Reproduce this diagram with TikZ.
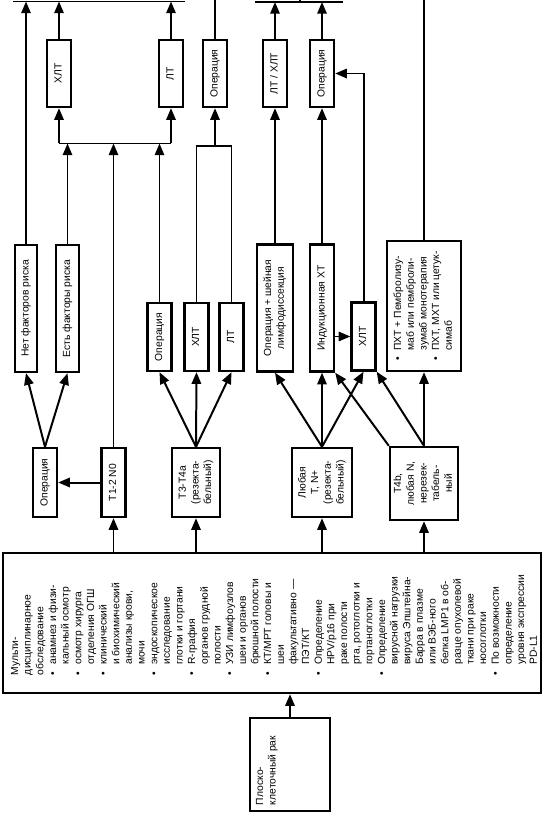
\documentclass[tikz,border=0pt]{standalone}
\usepackage{fontspec}
\setmainfont{Liberation Sans}
\usepackage{graphicx}
\usetikzlibrary{arrows.meta}

\newcommand{\vt}[1]{\rotatebox{90}{\begin{tabular}{@{}c@{}}#1\end{tabular}}}
\newcommand{\vl}[1]{\rotatebox{90}{\begin{tabular}{@{}l@{}}#1\end{tabular}}}
\newcommand{\bul}{\makebox[1em][l]{•}}
\newcommand{\cont}{\hspace*{1em}}

\begin{document}
\begin{tikzpicture}[x=0.03cm, y=-0.03cm,
  box/.style={draw, line width=2pt, inner sep=0pt, font=\fontsize{8.8}{10.8}\selectfont},
  boxsize/.style 2 args={minimum width=#1*0.03cm, minimum height=#2*0.03cm},
  arr/.style={line width=1.7pt, -{Triangle[length=10pt,width=8pt]}},
  link/.style={line width=1.7pt}]

\useasboundingbox (0,0) rectangle (544,817);

% treatment boxes, top row
\node[box, boxsize={24}{67}] (xlt1) at (59,73.5) {\vt{ХЛТ}};
\node[box, boxsize={24}{67}] (lt1) at (171,73.5) {\vt{ЛТ}};
\node[box, boxsize={24}{67}] (op3t) at (215,73.5) {\vt{Операция}};
\node[box, boxsize={24}{67}] (ltx4) at (275,73.5) {\vt{ЛТ / ХЛТ}};
\node[box, boxsize={24}{67}] (op4) at (322,73.5) {\vt{Операция}};

% middle row
\node[box, boxsize={22}{127}] (net) at (26,308.5) {\vt{Нет факторов риска}};
\node[box, boxsize={23}{127}] (est) at (67.5,308.5) {\vt{Есть факторы риска}};
\node[box, boxsize={24}{68}] (op3m) at (159.5,337) {\vt{Операция}};
\node[box, boxsize={24}{68}] (xlt3) at (196.5,337) {\vt{ХЛТ}};
\node[box, boxsize={24}{68}] (lt3) at (231.5,337) {\vt{ЛТ}};
\node[box, boxsize={36}{127}] (opnd) at (275,308) {\vt{Операция + шейная\\лимфодиссекция}};
\node[box, boxsize={24}{127}] (ind) at (322,308) {\vt{Индукционная ХТ}};
\node[box, boxsize={24}{68}] (xlt4) at (363.5,336.5) {\vt{ХЛТ}};
\node[box, boxsize={74}{130}] (pxt) at (424,306) {\vl{\bul ПХТ + Пембролизу-\\
  \cont маб или пемброли-\\
  \cont зумаб монотерапия\\
  \bul ПХТ, МХТ или цетук-\\
  \cont симаб}};

% stages
\node[box, boxsize={24}{69}] (op1) at (45,482.5) {\vt{Операция}};
\node[box, boxsize={24}{69}] (t12) at (113.5,482.5) {\vt{T1-2 N0}};
\node[box, boxsize={48}{69}] (t34) at (196,482.5) {\vt{T3-T4a\\(резекта-\\бельный)}};
\node[box, boxsize={60}{69}] (tn) at (322,482.5) {\vt{Любая\\T, N+\\(резекта-\\бельный)}};
\node[box, boxsize={68}{73}] (t4b) at (424,483.5) {\vt{T4b,\\любая N,\\нерезек-\\табель-\\ный}};

% examination
\node[box, boxsize={538}{140}] (exam) at (272,623) {\rotatebox{90}{\parbox[c][15.66cm][t]{3.12cm}{\raggedright
  Мульти-\\
  дисциплинарное\\
  обследование\\
  \bul анамнез и физи-\\
  \cont кальный осмотр\\
  \bul осмотр хирурга\\
  \cont отделения ОГШ\\
  \bul клинический\\
  \cont и биохимический\\
  \cont анализы крови,\\
  \cont мочи\\
  \bul эндоскопическое\\
  \cont исследование\\
  \cont глотки и гортани\\
  \bul R-графия\\
  \cont органов грудной\\
  \cont полости\\
  \bul УЗИ лимфоузлов\\
  \cont шеи и органов\\
  \cont брюшной полости\\
  \bul КТ/МРТ головы и\\
  \cont шеи\\
  \cont факультативно —\\
  \cont ПЭТ/КТ\\
  \bul Определение\\
  \cont HPV/p16 при\\
  \cont раке полости\\
  \cont рта, ротоглотки и\\
  \cont гортаноглотки\\
  \bul Определение\\
  \cont вирусной нагрузки\\
  \cont вируса Эпштейна-\\
  \cont Барра в плазме\\
  \cont или ВЭБ-ного\\
  \cont белка LMP1 в об-\\
  \cont разце опухолевой\\
  \cont ткани при раке\\
  \cont носоглотки\\
  \bul По возможности\\
  \cont определение\\
  \cont уровня экспрессии\\
  \cont PD-L1}}};

\node[box, boxsize={80}{93}] (sq) at (290,764.5) {\rotatebox{90}{\parbox[c][2.04cm][t]{2.43cm}{\raggedright
  Плоско-\\клеточный рак}}};

% outgoing lines at the top
\coordinate (topA) at (13,1.5);
\coordinate (topB) at (185,1.5);
\coordinate (topC) at (255,2);
\coordinate (topD) at (343,2);
\coordinate (top0) at (0,0);
\coordinate (stem) at (300,2);
\draw[link] (topA) -- (topB);
\draw[link] (topC) -- (topD);
\draw[link] (stem) -- (stem |- top0);
\draw[arr] (net.north) -- (net.north |- topA);
\draw[arr] (xlt1.north) -- (xlt1.north |- topA);
\draw[arr] (lt1.north) -- (lt1.north |- topA);
\draw[link] (op3t.north) -- (op3t.north |- top0);
\draw[arr] (ltx4.north) -- (ltx4.north |- topC);
\draw[arr] (op4.north) -- (op4.north |- topC);
\draw[link] (pxt.north) -- (pxt.north |- top0);

% collecting line under ХЛТ / ЛТ
\coordinate (busA) at (59,143.5);
\coordinate (busB) at (171,143.5);
\draw[link] (busA) -- (busB);
\draw[arr] (busA) -- (xlt1.south);
\draw[arr] (busB) -- (lt1.south);
\draw[arr] (est.north) -- (est.north |- busA);
\draw[arr] (t12.north) -- (t12.north |- busA);
\draw[arr] (op3m.north) -- (op3m.north |- busA);

% ХЛТ or ЛТ, then operation
\coordinate (j3) at (215,146);
\draw[link] (xlt3.north) |- (j3) -| (lt3.north);
\draw[arr] (j3) -- (op3t.south);

% N+ and T4b branches
\draw[arr] (opnd.north) -- (ltx4.south);
\draw[arr] (ind.north) -- (op4.south);
\draw[arr] (ind.east |- xlt4.west) -- (xlt4.west);
\draw[arr] (xlt4.north) |- (op4.east);

% from stages
\draw[arr] (op1.north) -- (net.south);
\draw[arr] (op1.north) -- (est.south);
\draw[arr] (t12.west) -- (op1.east);
\draw[arr] (t34.north) -- (op3m.south);
\draw[arr] (t34.north) -- (xlt3.south);
\draw[arr] (t34.north) -- (lt3.south);
\draw[arr] (tn.north) -- (opnd.south);
\draw[arr] (tn.north) -- (ind.south);
\draw[arr] (tn.north) -- (xlt4.south);
\draw[arr] (t4b.north west) -- (ind.south east);
\draw[arr] (t4b.north) -- (xlt4.south east);
\draw[arr] (t4b.north) -- (pxt.south);

% from examination
\draw[arr] (exam.north -| t12) -- (t12.south);
\draw[arr] (exam.north -| t34) -- (t34.south);
\draw[arr] (exam.north -| tn) -- (tn.south);
\draw[arr] (exam.north -| t4b) -- (t4b.south);
\draw[arr] (sq.north) -- (sq.north |- exam.south);

\end{tikzpicture}
\end{document}
